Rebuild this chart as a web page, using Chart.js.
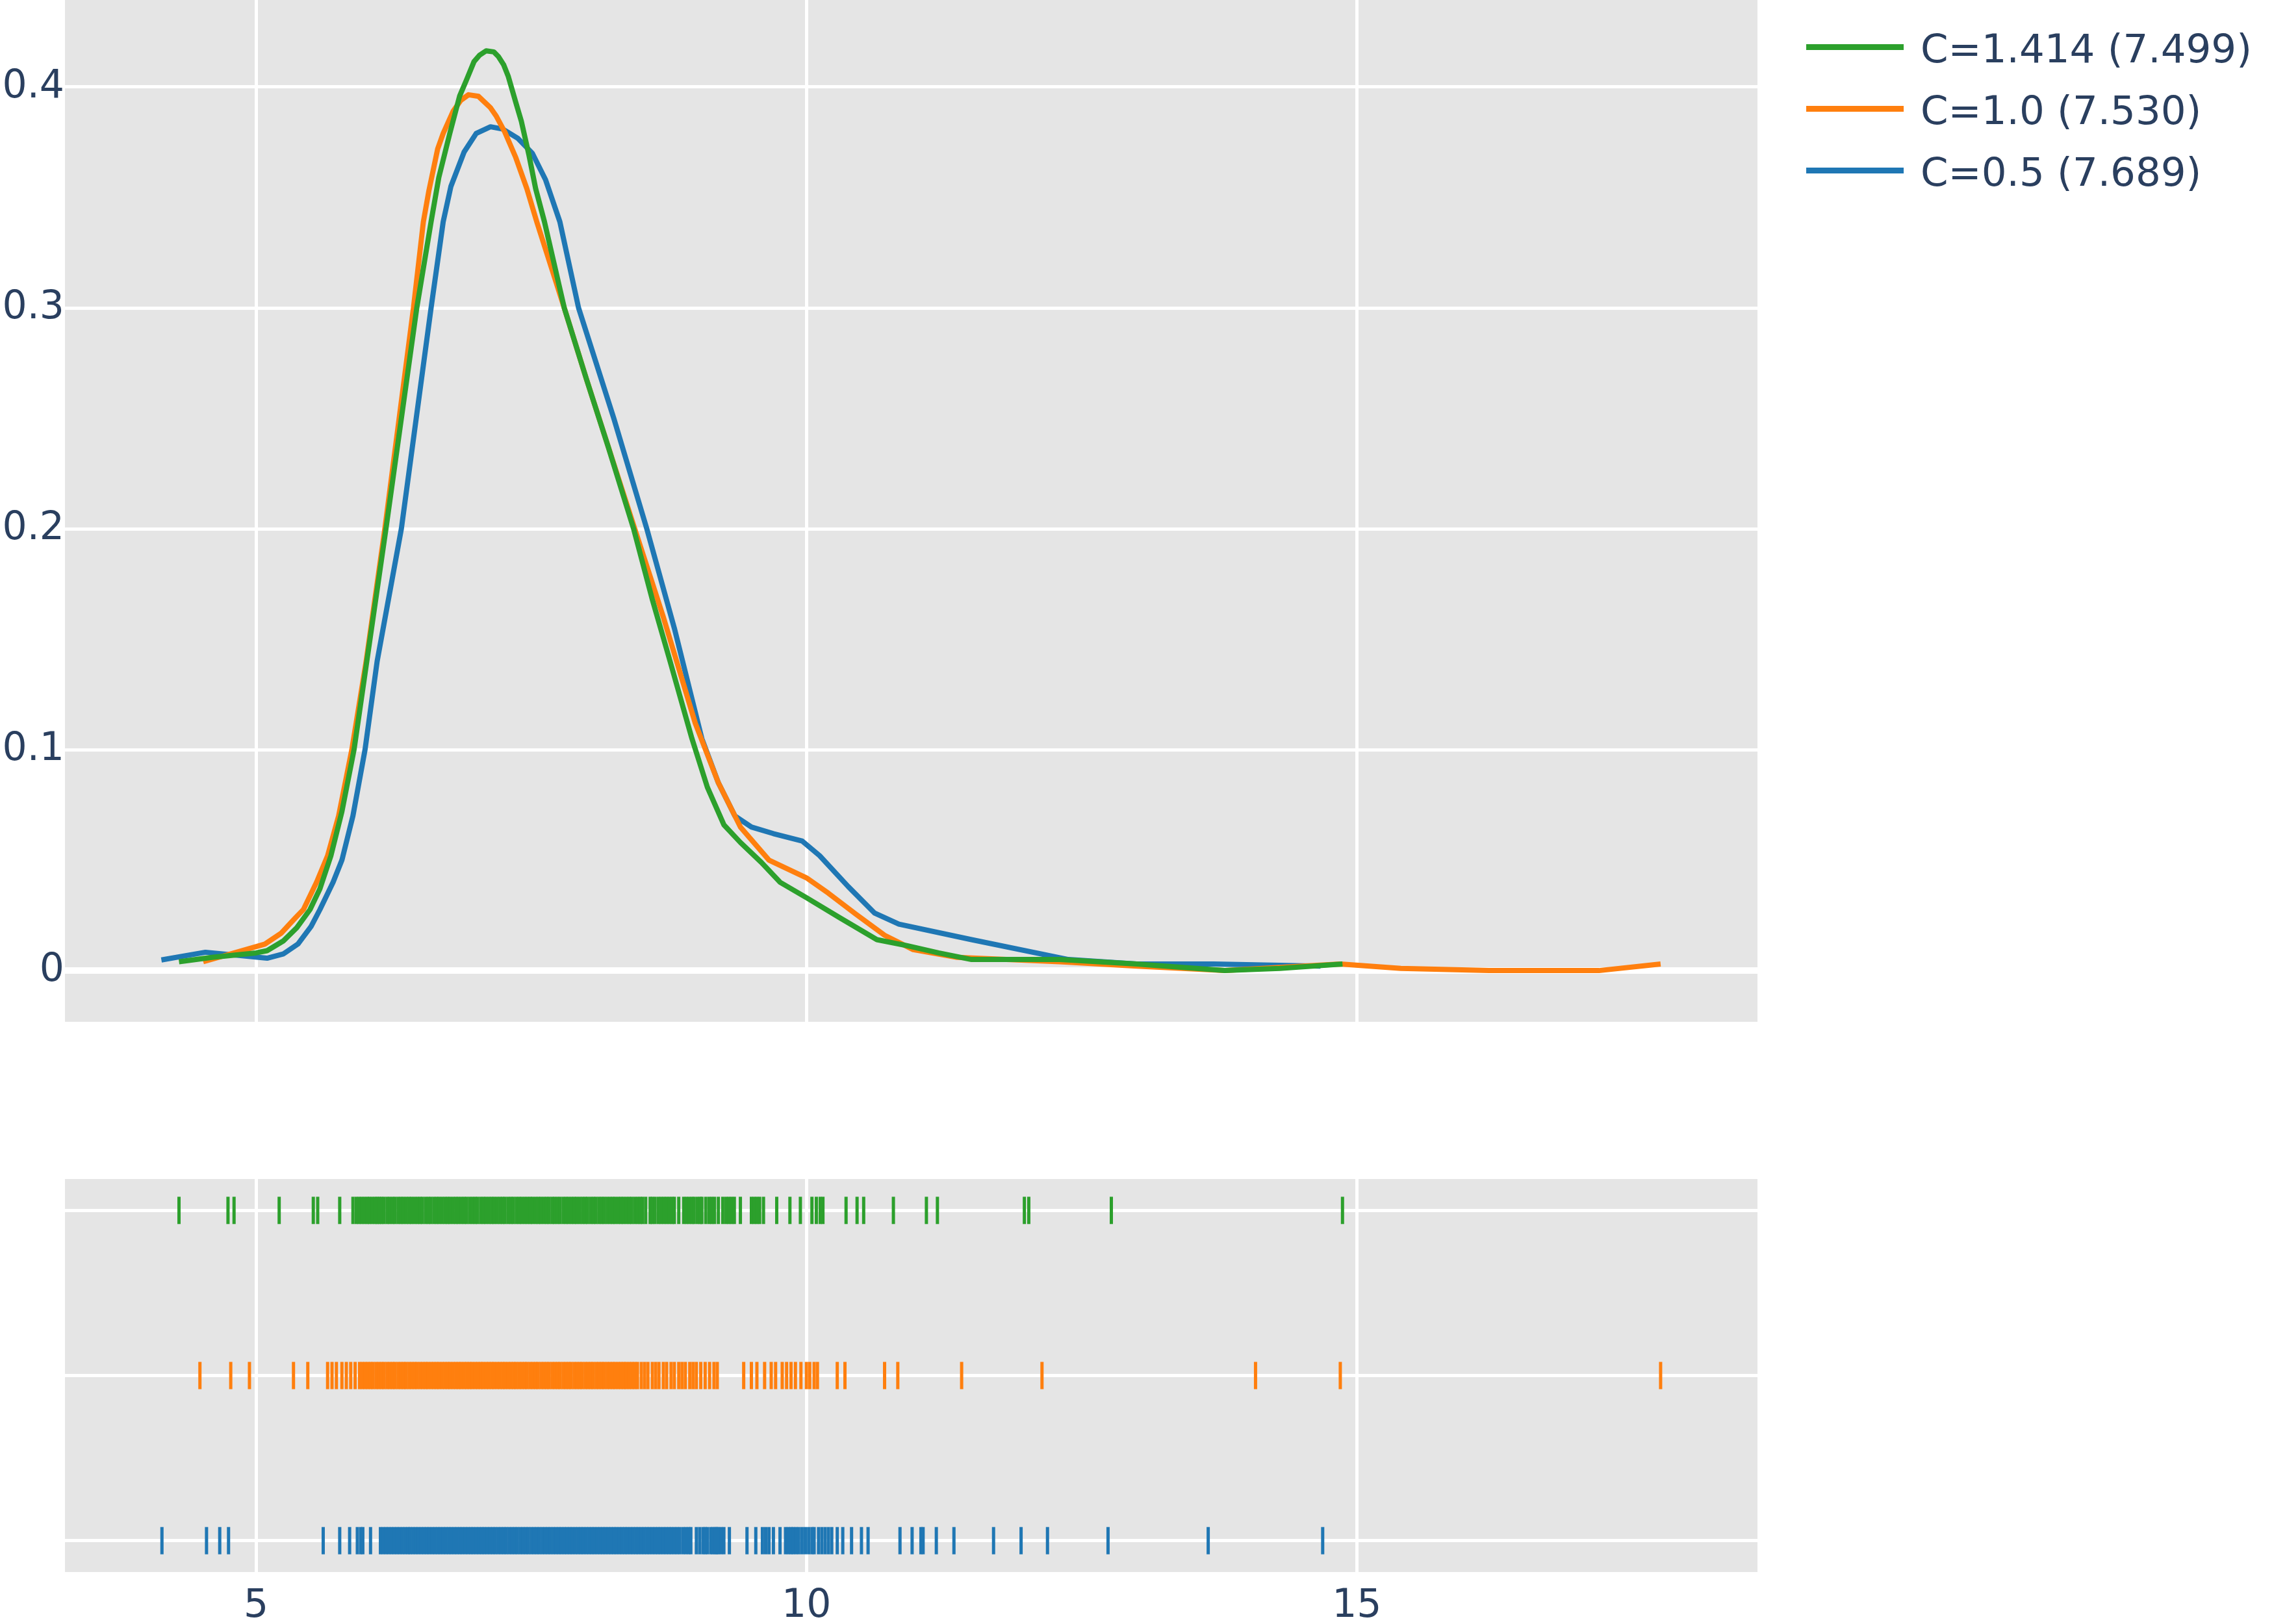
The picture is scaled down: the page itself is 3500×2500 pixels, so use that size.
<!DOCTYPE html>
<html>
<head>
<meta charset="utf-8">
<script src="https://cdn.jsdelivr.net/npm/chart.js@4.4.0/dist/chart.umd.min.js"></script>
<style>
  html, body { margin:0; padding:0; background:#ffffff; }
  body { width:3500px; height:2500px; position:relative; overflow:hidden; font-family:'DejaVu Sans', Verdana, sans-serif; }
  #main { position:absolute; left:0; top:0; }
  #rug { position:absolute; left:0; top:1815px; }
  .legline { position:absolute; left:2780px; width:150px; height:9px; }
  .legtext { position:absolute; left:2956px; font-size:61px; line-height:61px; color:#2a3f5f; white-space:nowrap; }
</style>
</head>
<body>
<canvas id="main" width="2705" height="1573"></canvas>
<canvas id="rug" width="2705" height="685"></canvas>
<div id="legend"></div>
<script>
// ---------------- DATA ----------------
const seriesNames = ['C=1.414 (7.499)', 'C=1.0 (7.530)', 'C=0.5 (7.689)'];
const seriesColors = ['#2ca02c', '#ff7f0e', '#1f77b4'];

// density curve C=1.414
const greenX = [4.30, 4.60, 5.00, 5.10, 5.25, 5.37, 5.49, 5.58, 5.68, 5.78, 5.89, 6.00, 6.18, 6.32, 6.46, 6.59, 6.66, 6.76, 6.85, 6.91, 6.98, 7.03, 7.09, 7.16, 7.20, 7.25, 7.29, 7.36, 7.41, 7.48, 7.54, 7.62, 7.80, 8.00, 8.20, 8.43, 8.60, 8.75, 8.96, 9.10, 9.25, 9.40, 9.59, 9.76, 10.00, 10.30, 10.64, 10.91, 11.20, 11.50, 12.30, 13.00, 13.80, 14.30, 14.87];
const greenY = [0.004, 0.006, 0.008, 0.009, 0.0135, 0.0194, 0.0276, 0.037, 0.052, 0.072, 0.100, 0.138, 0.200, 0.250, 0.300, 0.339, 0.359, 0.379, 0.396, 0.403, 0.4115, 0.4144, 0.4164, 0.4159, 0.4139, 0.410, 0.405, 0.393, 0.3845, 0.369, 0.354, 0.339, 0.300, 0.268, 0.237, 0.200, 0.168, 0.142, 0.105, 0.083, 0.066, 0.058, 0.049, 0.040, 0.033, 0.024, 0.014, 0.0113, 0.008, 0.005, 0.005, 0.003, 0.000, 0.001, 0.003];

// density curve C=1.0
const orangeX = [4.52, 5.08, 5.23, 5.36, 5.43, 5.55, 5.65, 5.75, 5.87, 6.00, 6.17, 6.43, 6.52, 6.57, 6.65, 6.70, 6.79, 6.86, 6.93, 7.02, 7.13, 7.18, 7.26, 7.36, 7.46, 7.55, 7.80, 8.00, 8.44, 8.70, 8.99, 9.20, 9.40, 9.66, 10.00, 10.20, 10.45, 10.71, 10.97, 11.37, 12.30, 13.00, 13.80, 14.85, 15.40, 16.20, 17.20, 17.76];
const orangeY = [0.004, 0.012, 0.017, 0.024, 0.0276, 0.040, 0.052, 0.070, 0.100, 0.140, 0.200, 0.300, 0.339, 0.353, 0.372, 0.379, 0.389, 0.394, 0.3965, 0.3958, 0.3906, 0.387, 0.3796, 0.368, 0.354, 0.339, 0.300, 0.268, 0.200, 0.160, 0.112, 0.085, 0.065, 0.050, 0.042, 0.035, 0.0255, 0.016, 0.0095, 0.006, 0.004, 0.002, 0.000, 0.003, 0.001, 0.000, 0.000, 0.003];

// density curve C=0.5
const blueX = [4.14, 4.54, 5.10, 5.25, 5.38, 5.50, 5.58, 5.70, 5.78, 5.88, 5.99, 6.10, 6.32, 6.59, 6.70, 6.77, 6.89, 7.00, 7.13, 7.24, 7.38, 7.51, 7.63, 7.76, 7.93, 8.25, 8.55, 8.80, 9.05, 9.20, 9.35, 9.50, 9.70, 9.96, 10.12, 10.38, 10.62, 10.84, 11.50, 12.38, 13.00, 13.70, 14.67];
const blueY = [0.0048, 0.0083, 0.0056, 0.0076, 0.012, 0.020, 0.0276, 0.040, 0.050, 0.070, 0.100, 0.140, 0.200, 0.300, 0.339, 0.355, 0.3706, 0.379, 0.382, 0.381, 0.3767, 0.370, 0.358, 0.339, 0.300, 0.250, 0.200, 0.155, 0.105, 0.085, 0.070, 0.065, 0.062, 0.0587, 0.052, 0.038, 0.026, 0.021, 0.014, 0.005, 0.003, 0.003, 0.002];

// rug observations
const greenRug = [4.30, 4.745, 4.80, 5.21, 5.52, 5.56, 5.76, 5.88, 5.91, 5.935, 5.96, 5.985, 6.01, 6.03, 6.055, 6.08, 6.10, 6.12, 6.14, 6.162, 6.19, 6.213, 6.24, 6.262, 6.29, 6.315, 6.338, 6.365, 6.39, 6.413, 6.44, 6.466, 6.49, 6.512, 6.54, 6.565, 6.588, 6.615, 6.64, 6.663, 6.69, 6.716, 6.74, 6.762, 6.79, 6.815, 6.838, 6.865, 6.89, 6.913, 6.94, 6.966, 6.99, 7.012, 7.04, 7.065, 7.088, 7.115, 7.14, 7.163, 7.19, 7.216, 7.24, 7.262, 7.29, 7.315, 7.338, 7.365, 7.39, 7.413, 7.44, 7.466, 7.49, 7.512, 7.54, 7.565, 7.588, 7.615, 7.64, 7.663, 7.69, 7.712, 7.738, 7.762, 7.79, 7.815, 7.838, 7.865, 7.89, 7.913, 7.94, 7.966, 7.99, 8.012, 8.04, 8.065, 8.088, 8.115, 8.14, 8.163, 8.19, 8.216, 8.24, 8.262, 8.29, 8.315, 8.338, 8.365, 8.39, 8.413, 8.44, 8.466, 8.49, 8.512, 8.54, 8.58, 8.60, 8.625, 8.655, 8.68, 8.705, 8.73, 8.755, 8.78, 8.80, 8.84, 8.885, 8.91, 8.935, 8.96, 8.98, 9.01, 9.035, 9.05, 9.085, 9.115, 9.14, 9.165, 9.20, 9.24, 9.27, 9.295, 9.32, 9.345, 9.40, 9.50, 9.525, 9.55, 9.575, 9.61, 9.73, 9.85, 9.945, 10.05, 10.09, 10.125, 10.15, 10.36, 10.46, 10.52, 10.79, 11.09, 11.19, 11.98, 12.02, 12.77, 14.87];
const orangeRug = [4.49, 4.77, 4.94, 5.34, 5.47, 5.65, 5.69, 5.73, 5.78, 5.82, 5.86, 5.90, 5.94, 5.965, 5.99, 6.015, 6.04, 6.063, 6.09, 6.115, 6.14, 6.163, 6.19, 6.215, 6.24, 6.263, 6.29, 6.315, 6.34, 6.363, 6.39, 6.415, 6.44, 6.463, 6.49, 6.515, 6.54, 6.563, 6.59, 6.615, 6.64, 6.663, 6.69, 6.715, 6.74, 6.763, 6.79, 6.815, 6.84, 6.863, 6.89, 6.915, 6.94, 6.963, 6.99, 7.015, 7.04, 7.063, 7.09, 7.115, 7.14, 7.163, 7.19, 7.215, 7.24, 7.263, 7.29, 7.315, 7.34, 7.363, 7.39, 7.415, 7.44, 7.463, 7.49, 7.515, 7.54, 7.563, 7.59, 7.615, 7.64, 7.663, 7.69, 7.715, 7.74, 7.763, 7.79, 7.815, 7.84, 7.863, 7.89, 7.915, 7.94, 7.963, 7.99, 8.015, 8.04, 8.063, 8.09, 8.115, 8.14, 8.163, 8.19, 8.215, 8.24, 8.263, 8.29, 8.315, 8.34, 8.363, 8.39, 8.415, 8.44, 8.465, 8.50, 8.53, 8.56, 8.60, 8.63, 8.66, 8.70, 8.73, 8.77, 8.80, 8.84, 8.87, 8.90, 8.94, 8.97, 9.00, 9.04, 9.08, 9.12, 9.16, 9.19, 9.43, 9.50, 9.55, 9.62, 9.68, 9.72, 9.78, 9.82, 9.86, 9.90, 9.95, 10.00, 10.03, 10.07, 10.10, 10.28, 10.35, 10.71, 10.83, 11.41, 12.14, 14.08, 14.85, 17.76];
const blueRug = [4.145, 4.55, 4.67, 4.75, 5.61, 5.76, 5.85, 5.92, 5.95, 5.97, 6.04, 6.13, 6.155, 6.18, 6.204, 6.23, 6.255, 6.28, 6.304, 6.33, 6.355, 6.38, 6.40, 6.425, 6.45, 6.474, 6.50, 6.525, 6.55, 6.574, 6.60, 6.625, 6.65, 6.674, 6.70, 6.725, 6.75, 6.774, 6.80, 6.825, 6.85, 6.874, 6.90, 6.925, 6.95, 6.974, 7.00, 7.025, 7.05, 7.074, 7.10, 7.125, 7.15, 7.174, 7.20, 7.225, 7.25, 7.274, 7.30, 7.325, 7.35, 7.374, 7.40, 7.425, 7.45, 7.474, 7.50, 7.525, 7.55, 7.574, 7.60, 7.625, 7.65, 7.674, 7.70, 7.725, 7.75, 7.774, 7.80, 7.825, 7.85, 7.874, 7.90, 7.925, 7.95, 7.974, 8.00, 8.025, 8.05, 8.074, 8.10, 8.125, 8.15, 8.174, 8.20, 8.225, 8.25, 8.274, 8.30, 8.325, 8.35, 8.374, 8.40, 8.425, 8.45, 8.474, 8.50, 8.525, 8.55, 8.574, 8.60, 8.625, 8.65, 8.674, 8.70, 8.725, 8.75, 8.774, 8.80, 8.825, 8.85, 8.88, 8.905, 8.93, 8.95, 9.00, 9.03, 9.06, 9.08, 9.10, 9.13, 9.15, 9.17, 9.185, 9.20, 9.225, 9.25, 9.30, 9.46, 9.54, 9.60, 9.63, 9.66, 9.70, 9.76, 9.81, 9.835, 9.86, 9.88, 9.905, 9.93, 9.96, 9.99, 10.02, 10.05, 10.07, 10.11, 10.14, 10.17, 10.20, 10.23, 10.28, 10.33, 10.41, 10.50, 10.56, 10.85, 10.96, 11.04, 11.06, 11.18, 11.34, 11.70, 11.95, 12.19, 12.74, 13.65, 14.69];

// axes
const xTicks = [5, 10, 15];
const xTickLabels = ['5', '10', '15'];
const yTicks = [0, 0.1, 0.2, 0.3, 0.4];
const yTickLabels = ['0', '0.1', '0.2', '0.3', '0.4'];
const xRange = [3.264, 18.64];
const yRange = [-0.0232, 0.4394];
const rugRows = [2, 1, 0];           // green, orange, blue rows
const rugRange = [-0.19, 2.19];

// ---------------- RENDER ----------------
const FONT = "'DejaVu Sans', Verdana, sans-serif";
const TEXT = '#2a3f5f';
const BG = '#e5e5e5';

const bgPlugin = {
  id: 'bg',
  beforeDraw(chart) {
    const a = chart.chartArea, c = chart.ctx;
    c.save(); c.fillStyle = BG; c.fillRect(a.left, a.top, a.right - a.left, a.bottom - a.top); c.restore();
  }
};

function noPad(s) { s.paddingLeft = 0; s.paddingRight = 0; s.paddingTop = 0; s.paddingBottom = 0; }

const toPts = (xs, ys) => xs.map((x, i) => ({ x: x, y: ys[i] }));
const curves = [[greenX, greenY], [orangeX, orangeY], [blueX, blueY]];

new Chart(document.getElementById('main'), {
  type: 'scatter',
  data: {
    datasets: curves.map((c, i) => ({
      label: seriesNames[i],
      data: toPts(c[0], c[1]),
      showLine: true,
      borderColor: seriesColors[i],
      backgroundColor: seriesColors[i],
      borderWidth: 8,
      borderJoinStyle: 'round',
      pointRadius: 0,
      tension: 0
    }))
  },
  options: {
    responsive: false, animation: false, devicePixelRatio: 1,
    layout: { padding: 0, autoPadding: false },
    plugins: { legend: { display: false }, tooltip: { enabled: false } },
    scales: {
      x: {
        type: 'linear', min: xRange[0], max: xRange[1],
        afterBuildTicks: a => { a.ticks = xTicks.map(v => ({ value: v })); },
        ticks: { display: false },
        grid: { color: '#ffffff', lineWidth: 5, drawTicks: false },
        border: { display: false },
        afterFit: s => { s.height = 0; noPad(s); }
      },
      y: {
        type: 'linear', min: yRange[0], max: yRange[1],
        afterBuildTicks: a => { a.ticks = yTicks.map(v => ({ value: v })); },
        ticks: {
          callback: (v) => { const k = yTicks.findIndex(t => Math.abs(t - v) < 1e-9); return k >= 0 ? yTickLabels[k] : ''; },
          font: { family: FONT, size: 60 }, color: TEXT, padding: 1
        },
        grid: { color: '#ffffff', lineWidth: ctx => (ctx.tick && ctx.tick.value === 0 ? 10 : 5), drawTicks: false },
        border: { display: false },
        afterFit: s => { s.width = 100; noPad(s); }
      }
    }
  },
  plugins: [bgPlugin]
});

const rugs = [greenRug, orangeRug, blueRug];
new Chart(document.getElementById('rug'), {
  type: 'scatter',
  data: {
    datasets: rugs.map((r, i) => ({
      label: seriesNames[i],
      data: r.map(v => ({ x: v, y: rugRows[i] })),
      showLine: false,
      pointStyle: 'line',
      rotation: 90,
      pointRadius: 21,
      pointBorderWidth: 5,
      borderWidth: 5,
      borderColor: seriesColors[i],
      backgroundColor: seriesColors[i]
    }))
  },
  options: {
    responsive: false, animation: false, devicePixelRatio: 1,
    layout: { padding: 0, autoPadding: false },
    plugins: { legend: { display: false }, tooltip: { enabled: false } },
    scales: {
      x: {
        type: 'linear', min: xRange[0], max: xRange[1],
        afterBuildTicks: a => { a.ticks = xTicks.map(v => ({ value: v })); },
        ticks: {
          callback: (v) => { const k = xTicks.indexOf(v); return k >= 0 ? xTickLabels[k] : ''; },
          font: { family: FONT, size: 60 }, color: TEXT, padding: 17, maxRotation: 0, autoSkip: false
        },
        grid: { color: '#ffffff', lineWidth: 5, drawTicks: false },
        border: { display: false },
        afterFit: s => { s.height = 80; noPad(s); }
      },
      y: {
        type: 'linear', min: rugRange[0], max: rugRange[1],
        afterBuildTicks: a => { a.ticks = rugRows.map(v => ({ value: v })); },
        ticks: { display: false },
        grid: { color: '#ffffff', lineWidth: 5, drawTicks: false },
        border: { display: false },
        afterFit: s => { s.width = 100; noPad(s); }
      }
    }
  },
  plugins: [bgPlugin]
});

// legend
const legRowCenters = [72, 167, 262];
const leg = document.getElementById('legend');
seriesNames.forEach((n, i) => {
  const l = document.createElement('div');
  l.className = 'legline';
  l.style.top = (legRowCenters[i] - 4.5) + 'px';
  l.style.background = seriesColors[i];
  leg.appendChild(l);
  const t = document.createElement('div');
  t.className = 'legtext';
  t.style.top = (legRowCenters[i] + 1 - 29.4) + 'px';
  t.textContent = n;
  leg.appendChild(t);
});
</script>
</body>
</html>
